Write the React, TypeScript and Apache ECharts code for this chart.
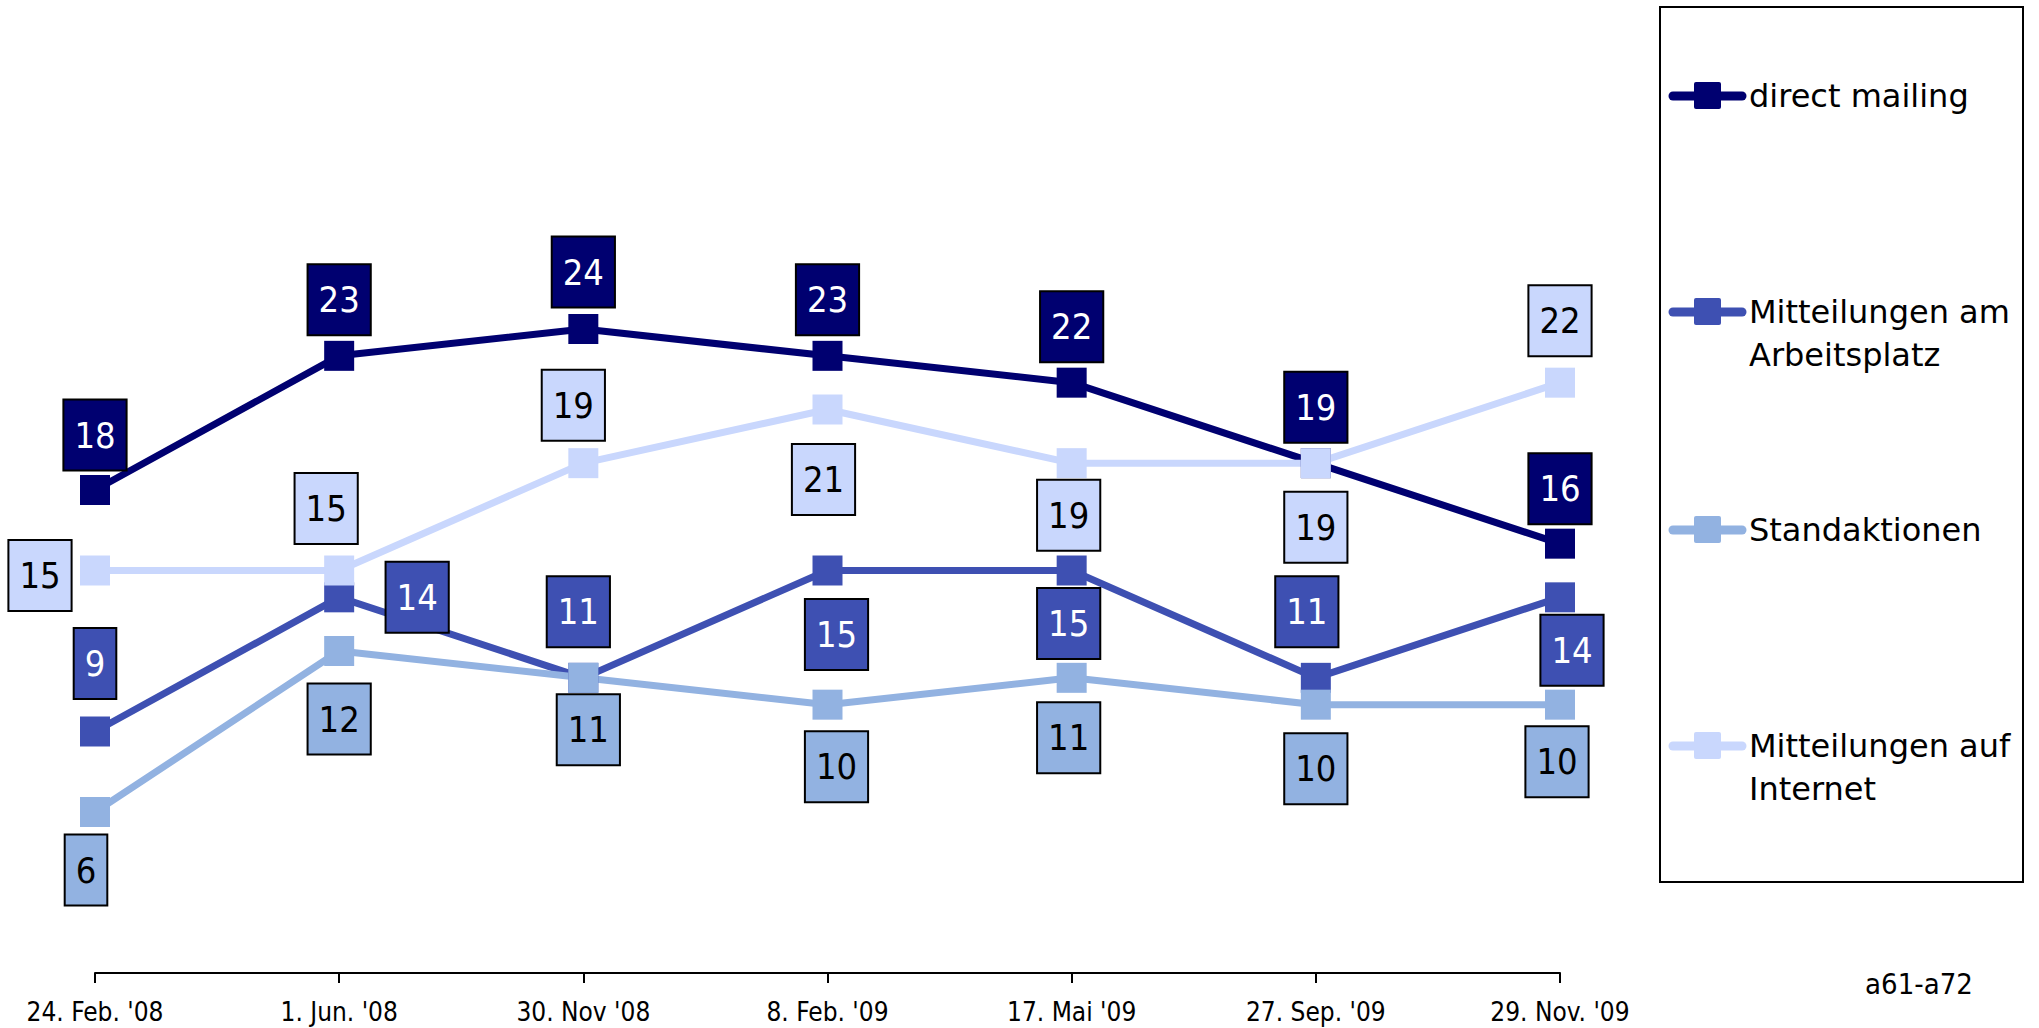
import React, { useEffect, useRef } from "react";
import * as echarts from "echarts";

const categories = ["24. Feb. '08", "1. Jun. '08", "30. Nov '08", "8. Feb. '09", "17. Mai '09", "27. Sep. '09", "29. Nov. '09"];
const directMailing = [18, 23, 24, 23, 22, 19, 16];
const arbeitsplatz = [9, 14, 11, 15, 15, 11, 14];
const standaktionen = [6, 12, 11, 10, 11, 10, 10];
const internet = [15, 15, 19, 21, 19, 19, 22];
const seriesNames = ["direct mailing", "Mitteilungen am Arbeitsplatz", "Standaktionen", "Mitteilungen auf Internet"];
const legendLabels = ["direct mailing", "Mitteilungen am\nArbeitsplatz", "Standaktionen", "Mitteilungen auf\nInternet"];
const footnote = "a61-a72";

const colors = ["#000070", "#3e50b2", "#92b2e1", "#c9d7fd"];
const textColors = ["#ffffff", "#ffffff", "#000000", "#000000"];

// label offsets (style/position only)
const offsDirect = [[0, -55], [0, -56], [0, -57], [0, -56], [0, -56], [0, -56], [0, -55]];
const offsArbeit = [[0, -68], [78, 0], [-5, -66], [9, 64], [-3, 53], [-9, -66], [12, 53]];
const offsStand = [[-9, 58], [0, 68], [5, 52], [9, 62], [-3, 60], [0, 64], [-3, 57]];
const offsInternet = [[-55, 5], [-13, -62], [-10, -58], [-4, 70], [-3, 52], [0, 64], [0, -62]];

export default function App() {
  const ref = useRef<HTMLDivElement>(null);
  useEffect(() => {
    document.body.style.margin = "0";
    document.body.style.overflow = "hidden";
    const chart = echarts.init(ref.current!, null, { renderer: "svg" });
    const allValues = [directMailing, arbeitsplatz, standaktionen, internet];
    const allOffs = [offsDirect, offsArbeit, offsStand, offsInternet];
    const series = allValues.map((vals, s) => ({
      type: "line",
      name: seriesNames[s],
      data: vals.map((v, i) => ({ value: v, label: { offset: allOffs[s][i] } })),
      symbol: "rect",
      symbolSize: 30,
      itemStyle: { color: colors[s] },
      lineStyle: { color: colors[s], width: 7 },
      label: {
        show: true,
        position: "inside",
        color: textColors[s],
        backgroundColor: colors[s],
        borderColor: "#000",
        borderWidth: 2,
        padding: [13, 10],
        fontSize: 36,
        lineHeight: 43,
        fontFamily: "DejaVu Sans Condensed",
      },
      emphasis: { disabled: true },
    }));

    const legendYs = [96, 312, 530, 746];
    const legendGraphics: any[] = [
      {
        type: "rect",
        shape: { x: 1660, y: 7, width: 363, height: 875 },
        style: { fill: "none", stroke: "#000", lineWidth: 2 },
      },
    ];
    legendYs.forEach((y, i) => {
      legendGraphics.push({
        type: "line",
        shape: { x1: 1673, y1: y, x2: 1742, y2: y },
        style: { stroke: colors[i], lineWidth: 9, lineCap: "round" },
      });
      legendGraphics.push({
        type: "rect",
        shape: { x: 1694, y: y - 14, width: 27, height: 27, r: 2 },
        style: { fill: colors[i] },
      });
      legendGraphics.push({
        type: "text",
        x: 1749,
        y: y - 21.5,
        style: {
          text: legendLabels[i],
          fontSize: 32,
          lineHeight: 43,
          fontFamily: "DejaVu Sans",
          fill: "#000",
          verticalAlign: "top",
          align: "left",
        },
      });
    });
    legendGraphics.push({
      type: "text",
      x: 1919,
      y: 984,
      style: {
        text: footnote,
        fontSize: 29,
        fontFamily: "DejaVu Sans Condensed",
        fill: "#000",
        align: "center",
        verticalAlign: "middle",
      },
    });

    chart.setOption({
      animation: false,
      backgroundColor: "#fff",
      grid: { left: 95, right: 479, top: 168, bottom: 55 },
      xAxis: {
        type: "category",
        data: categories,
        boundaryGap: false,
        axisLine: { lineStyle: { color: "#000", width: 2 } },
        axisTick: { show: true, length: 10, interval: 0, lineStyle: { color: "#000", width: 2 } },
        axisLabel: {
          interval: 0,
          margin: 26,
          fontSize: 26,
          color: "#000",
          fontFamily: "DejaVu Sans Condensed",
        },
      },
      yAxis: {
        type: "value",
        min: 0,
        max: 30,
        show: false,
        splitLine: { show: false },
      },
      series,
      graphic: legendGraphics,
    });
    return () => chart.dispose();
  }, []);
  return <div ref={ref} style={{ width: 2039, height: 1028 }} />;
}
